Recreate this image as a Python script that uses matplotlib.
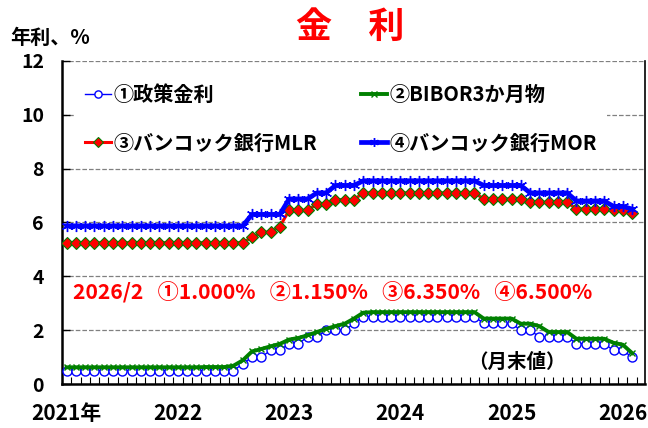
import matplotlib
matplotlib.use("Agg")
import matplotlib.pyplot as plt
import numpy as np

# monthly data, 2021/1 .. 2026/2 (month-end values, % per year)
policy = ([0.50] * 19 + [0.75] + [1.00] * 2 + [1.25] * 2 + [1.50] * 2 + [1.75] * 2
          + [2.00] * 3 + [2.25] + [2.50] * 13 + [2.25] * 4 + [2.00] * 2
          + [1.75] * 4 + [1.50] * 4 + [1.25] * 2 + [1.00])
bibor = ([0.62] * 15 + [0.63] * 3 + [0.68, 0.88, 1.21, 1.30, 1.40, 1.49, 1.65, 1.71,
          1.81, 1.93, 2.05, 2.15, 2.24, 2.43, 2.65] + [2.67] * 12 + [2.43] * 4
         + [2.24] * 2 + [2.15] + [1.93] * 3 + [1.68] * 4 + [1.53, 1.46, 1.15])
mlr = ([5.25] * 20 + [5.45] + [5.64] * 2 + [5.85] + [6.45] * 3 + [6.69] * 2
       + [6.85] * 3 + [7.10] * 13 + [6.875] * 5 + [6.75] * 5 + [6.50] * 4
       + [6.45] * 2 + [6.35])
mor = ([5.875] * 20 + [6.30] * 4 + [6.875] * 3 + [7.10] * 2 + [7.375] * 3
       + [7.55] * 13 + [7.375] * 5 + [7.10] * 5 + [6.80] * 4 + [6.60] * 2 + [6.50])

year_labels = ["2021年", "2022", "2023", "2024", "2025", "2026"]
labels = ["①政策金利", "②BIBOR3か月物", "③バンコック銀行MLR", "④バンコック銀行MOR"]
note = "2026/2   ①1.000%   ②1.150%   ③6.350%   ④6.500%"

plt.rcParams['font.family'] = ['Noto Sans CJK JP', 'DejaVu Sans']
plt.rcParams['font.weight'] = 'bold'

x = np.arange(len(policy))

fig = plt.figure(figsize=(6.48, 4.28), dpi=100)
ax = fig.add_axes([0.0957, 0.1028, 0.8997, 0.7547])

l1, = ax.plot(x, policy, color="#0000FF", lw=1.0, marker="o", ms=6.5,
              mfc="white", mec="#0000FF", mew=1.0, zorder=3)
l2, = ax.plot(x, bibor, color="#008000", lw=2.8, marker="x", ms=5,
              mec="#008000", mew=1.0, zorder=4)
l3, = ax.plot(x, mlr, color="#FF0000", lw=2.2, marker="D", ms=6,
              mfc="#FF0000", mec="#008000", mew=0.8, zorder=5)
l4, = ax.plot(x, mor, color="#0000FF", lw=3.4, marker=(6, 2, 0), ms=8,
              mec="#0000FF", mew=1.0, zorder=6)

ax.set_xlim(-0.5, 62.4)
ax.set_ylim(0, 12)
ax.set_yticks(np.arange(0, 13, 2))
ax.set_xticks(np.arange(0, 61, 12))
ax.set_xticklabels(year_labels)
ax.set_xticks(np.arange(-0.5, 62, 1), minor=True)
ax.tick_params(axis="x", which="major", length=0, pad=14, labelsize=15)
ax.tick_params(axis="x", which="minor", direction="in", length=5, width=0.8)
ax.tick_params(axis="y", direction="in", length=6, width=1, pad=13, labelsize=14)

ax.yaxis.grid(True, linestyle="--", color="#808080", lw=0.9)
ax.set_axisbelow(True)
ax.spines["top"].set_visible(False)
ax.spines["left"].set_linewidth(1.8)
ax.spines["bottom"].set_linewidth(1.8)
ax.spines["right"].set_linewidth(1.2)

leg = ax.legend([l1, l3, l2, l4], [labels[0], labels[2], labels[1], labels[3]],
                ncol=2, loc="upper left", bbox_to_anchor=(0.005, 0.99),
                fontsize=14.5, frameon=True, facecolor="white", edgecolor="none",
                framealpha=1, handlelength=1.3, handletextpad=0.1,
                columnspacing=2.2, labelspacing=1.35, borderpad=0.5, markerscale=0.8)
leg.set_zorder(10)

ax.text(0.018, 0.282, note, transform=ax.transAxes, color="#FF0000",
        fontsize=15.2, fontweight="bold", va="center", ha="left", zorder=11)
ax.text(0.78, 0.068, "（月末値）", transform=ax.transAxes, color="black",
        fontsize=14, fontweight="bold", va="center", ha="center", zorder=11)

fig.text(0.54, 0.935, "金　利", color="#FF0000", fontsize=26, fontweight="bold",
         ha="center", va="center")
fig.text(0.015, 0.912, "年利、%", color="black", fontsize=14.5, fontweight="bold",
         ha="left", va="center")

fig.savefig("out.png", dpi=100)
